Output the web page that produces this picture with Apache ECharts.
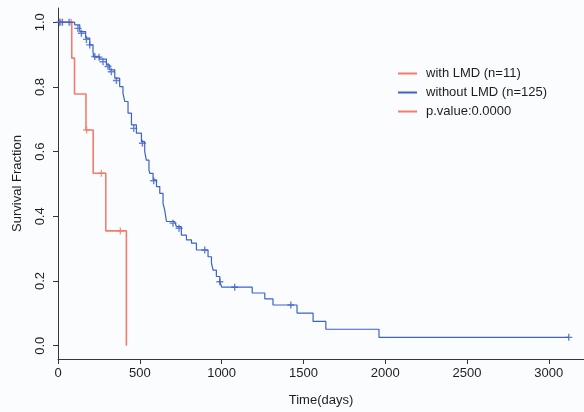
<!DOCTYPE html>
<html>
<head>
<meta charset="utf-8">
<script src="https://cdn.jsdelivr.net/npm/echarts@6/dist/echarts.min.js"></script>
<style>
html,body{margin:0;padding:0;background:#fbfcfe;}
#chart{width:584px;height:412px;}
</style>
</head>
<body>
<div id="chart"></div>
<script>
// ---- data ----
const xTicks = [0, 500, 1000, 1500, 2000, 2500, 3000];
const yTicks = [0, 0.2, 0.4, 0.6, 0.8, 1.0];

const seriesNames = ['with LMD (n=11)', 'without LMD (n=125)', 'p.value:0.0000'];

// with LMD: Kaplan-Meier steps (day, survival)
const redDays = [0, 84, 101, 171, 215, 292, 418];
const redSurv = [1, 0.889, 0.778, 0.667, 0.533, 0.355, 0];
const redCensorDays = [16, 80, 175, 265, 381];
const redCensorSurv = [1, 1, 0.667, 0.533, 0.355];

// without LMD: Kaplan-Meier steps (day, survival)
const blueDays = [0, 72, 102, 133, 169, 194, 214, 218, 255, 296, 316, 347, 377, 397, 408, 428, 449, 479, 510, 530, 540, 556, 561, 581, 602, 622, 642, 652, 663, 713, 724, 754, 785, 816, 846, 917, 938, 948, 968, 989, 1001, 1187, 1264, 1314, 1461, 1559, 1637, 1962, 3122];
const blueSurv = [1, 1, 0.992, 0.971, 0.951, 0.930, 0.909, 0.893, 0.886, 0.868, 0.853, 0.827, 0.801, 0.781, 0.755, 0.719, 0.683, 0.657, 0.631, 0.600, 0.574, 0.543, 0.533, 0.513, 0.492, 0.471, 0.440, 0.420, 0.384, 0.379, 0.368, 0.342, 0.327, 0.317, 0.296, 0.275, 0.255, 0.234, 0.214, 0.198, 0.181, 0.163, 0.145, 0.126, 0.101, 0.075, 0.051, 0.026, 0.026];
const blueCensorDays = [10, 27, 68, 122, 143, 174, 194, 225, 251, 275, 306, 326, 357, 463, 516, 585, 703, 740, 897, 989, 1080, 1423, 3122];
const blueCensorSurv = [1, 1, 1, 0.981, 0.966, 0.947, 0.930, 0.894, 0.892, 0.878, 0.863, 0.847, 0.820, 0.672, 0.626, 0.510, 0.379, 0.363, 0.296, 0.198, 0.181, 0.126, 0.026];

const RED = '#f27d6c';
const BLUE = '#3c62cc';
const AXIS = '#2e3a3a';
const TXT = '#1e1e1e';
const FONT = 'Liberation Sans, Arial, Helvetica, sans-serif';
const PLUS = 'path://M4,0H6V4H10V6H6V10H4V6H0V4H4Z';

const zip = (a, b) => a.map((v, i) => [v, b[i]]);

const chart = echarts.init(document.getElementById('chart'), null, {renderer: 'canvas'});
chart.setOption({
  backgroundColor: '#fbfcfe',
  animation: false,
  textStyle: {fontFamily: FONT},
  grid: {left: 58, top: 8, right: 0, bottom: 53, containLabel: false},
  legend: {
    orient: 'vertical', left: 393, top: 62,
    itemWidth: 19, itemHeight: 2, icon: 'rect', itemGap: 6,
    selectedMode: false,
    textStyle: {fontSize: 13, color: TXT, fontFamily: FONT, padding: [0, 0, 0, 4]},
    data: seriesNames
  },
  xAxis: {
    type: 'value', min: 0, max: 3215,
    axisLine: {show: true, onZero: false, lineStyle: {color: AXIS, width: 1}},
    axisTick: {show: true, length: 5, customValues: xTicks, lineStyle: {color: AXIS}},
    axisLabel: {customValues: xTicks, margin: 8, fontSize: 13, color: TXT, fontFamily: FONT,
      formatter: v => String(Math.round(v))},
    splitLine: {show: false},
    name: 'Time(days)', nameLocation: 'middle', nameGap: 35,
    nameTextStyle: {fontSize: 13, color: TXT, fontFamily: FONT}
  },
  yAxis: {
    type: 'value', min: -0.041, max: 1.044,
    axisLine: {show: true, onZero: false, lineStyle: {color: AXIS, width: 1}},
    axisTick: {show: true, length: 5, customValues: yTicks, lineStyle: {color: AXIS}},
    axisLabel: {customValues: yTicks, rotate: 90, margin: 11, fontSize: 13, color: TXT, fontFamily: FONT,
      formatter: v => Number(v).toFixed(1)},
    splitLine: {show: false},
    name: 'Survival Fraction', nameLocation: 'middle', nameGap: 34,
    nameTextStyle: {fontSize: 13, color: TXT, fontFamily: FONT}
  },
  series: [
    {
      name: seriesNames[0], type: 'line', step: 'end', data: zip(redDays, redSurv),
      color: RED, showSymbol: false, lineStyle: {color: RED, width: 1.6}, z: 2
    },
    {
      name: seriesNames[0] + ' censored', type: 'scatter', data: zip(redCensorDays, redCensorSurv),
      symbol: PLUS, symbolSize: 7, itemStyle: {color: RED}, z: 3
    },
    {
      name: seriesNames[1], type: 'line', step: 'end', data: zip(blueDays, blueSurv),
      color: BLUE, showSymbol: false, lineStyle: {color: BLUE, width: 1.2}, z: 4
    },
    {
      name: seriesNames[1] + ' censored', type: 'scatter', data: zip(blueCensorDays, blueCensorSurv),
      symbol: PLUS, symbolSize: 7, itemStyle: {color: BLUE}, z: 5
    },
    {
      name: seriesNames[2], type: 'line', data: [], color: RED, lineStyle: {color: RED}
    }
  ]
});
</script>
</body>
</html>
